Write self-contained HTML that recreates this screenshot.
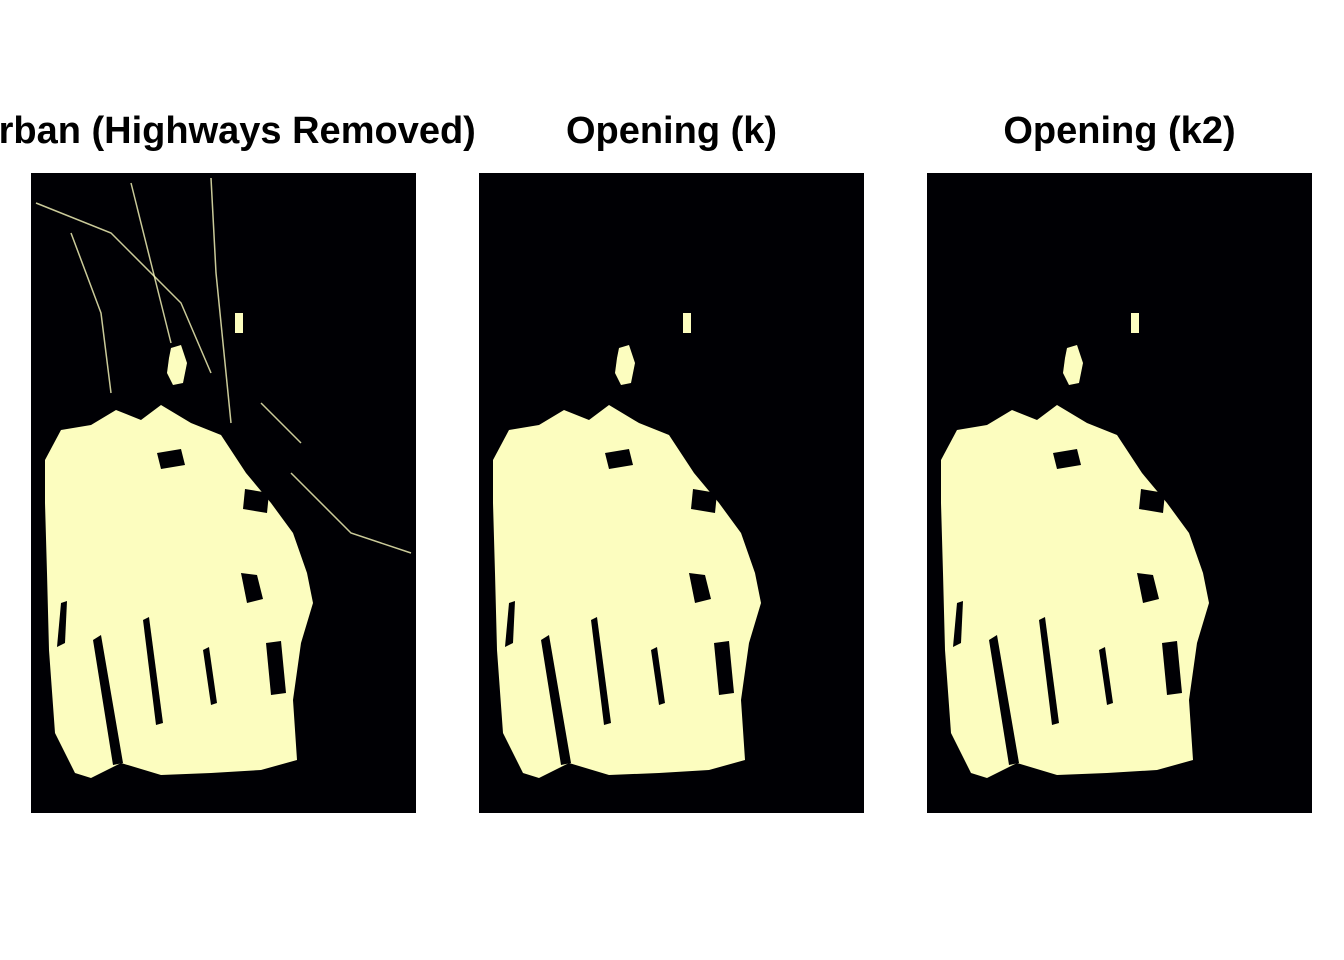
<!DOCTYPE html>
<html><head><meta charset="utf-8"><style>
body{margin:0;background:#fff;}
svg{display:block;font-family:"Liberation Sans",Arial,sans-serif;}
</style></head><body>
<svg width="1344" height="960" viewBox="0 0 1344 960">
<rect width="1344" height="960" fill="#fff"/>
<g id="panels"></g>
</svg>
<script>
const titles = ["Urban (Highways Removed)", "Opening (k)", "Opening (k2)"];
const panelLefts = [31, 479, 927];
// urban core outline, relative to panel origin (panel 385x640)
const coreX = [14,30,60,85,110,130,160,190,215,240,262,276,282,270,262,266,230,180,130,90,60,44,24,18,16,14];
const coreY = [287,257,252,237,247,232,250,262,300,330,360,400,430,470,527,587,597,600,602,590,605,600,560,477,400,330];
const bulbX = [140,150,156,152,142,136,138], bulbY = [175,172,190,210,212,200,185];
const holes = [
  {x:[62,70,92,82],y:[467,462,590,592]},
  {x:[112,118,132,125],y:[447,444,550,552]},
  {x:[172,178,186,180],y:[477,474,530,532]},
  {x:[30,36,34,26],y:[430,428,470,474]},
  {x:[210,226,232,216],y:[400,402,426,430]},
  {x:[126,150,154,130],y:[280,276,292,296]},
  {x:[214,238,236,212],y:[316,320,340,336]},
  {x:[235,250,255,240],y:[470,468,520,522]}
];
const roads = [[[5,30],[80,60],[150,130],[180,200]],[[40,60],[70,140],[80,220]],[[100,10],[120,90],[140,170]],[[180,5],[185,100],[200,250]],[[260,300],[320,360],[380,380]],[[270,270],[230,230]]];
const showRoads = [true,false,false];
const NS = "http://www.w3.org/2000/svg";
const g = document.getElementById('panels');
function poly(xs,ys,ox,oy){return xs.map((x,i)=>(x+ox)+","+(ys[i]+oy)).join(" ");}
panelLefts.forEach((px,i)=>{
  const top=173;
  const r=document.createElementNS(NS,'rect');
  
  
  r.setAttribute('x',px);r.setAttribute('y',top);r.setAttribute('width',385);r.setAttribute('height',640);r.setAttribute('fill','#000004');
  g.appendChild(r);
  const t=document.createElementNS(NS,'text');
  
  
  t.setAttribute('x',px+192.5);t.setAttribute('y',143);t.setAttribute('text-anchor','middle');
  t.setAttribute('font-size','38');t.setAttribute('font-weight','bold');t.textContent=titles[i];
  g.appendChild(t);
  const c=document.createElementNS(NS,'polygon');
  
  
  c.setAttribute('points',poly(coreX,coreY,px,top));c.setAttribute('fill','#FCFDBF');
  g.appendChild(c);
  const b=document.createElementNS(NS,'polygon');
  
  
  b.setAttribute('points',poly(bulbX,bulbY,px,top));b.setAttribute('fill','#FCFDBF');
  g.appendChild(b);
  const s=document.createElementNS(NS,'rect');
  
  
  s.setAttribute('x',px+204);s.setAttribute('y',top+140);s.setAttribute('width',8);s.setAttribute('height',20);s.setAttribute('fill','#FCFDBF');
  g.appendChild(s);
  holes.forEach(h=>{
    const p=document.createElementNS(NS,'polygon');
    
    
    p.setAttribute('points',poly(h.x,h.y,px,top));p.setAttribute('fill','#000004');
    g.appendChild(p);
  });
  if(showRoads[i]) roads.forEach(rd=>{
    const l=document.createElementNS(NS,'polyline');
    
    
    l.setAttribute('points',rd.map(p=>(p[0]+px)+","+(p[1]+top)).join(" "));
    l.setAttribute('fill','none');l.setAttribute('stroke','#FCFDBF');l.setAttribute('stroke-width','1.5');l.setAttribute('opacity','0.8');
    g.appendChild(l);
  });
});
</script>
</body></html>
